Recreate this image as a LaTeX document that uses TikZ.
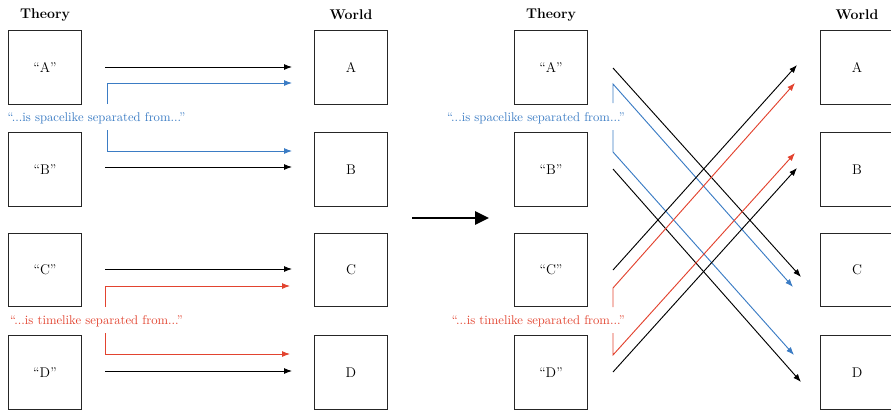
\documentclass[tikz,border=0pt]{standalone}
\usetikzlibrary{arrows.meta}
\definecolor{sblue}{HTML}{3B7CC4}
\definecolor{tred}{HTML}{E2432F}
\begin{document}
\begin{tikzpicture}[x=0.03cm,y=-0.03cm,
  box/.style={draw=black!85,line width=1.1pt,minimum size=2.2cm,inner sep=0pt,font=\fontsize{12}{14}\selectfont},
  head/.style={font=\fontsize{12}{14}\selectfont\bfseries},
  conn/.style={line width=0.8pt,-{Latex[length=2.4mm,width=1.8mm]}},
  bl/.style={conn,sblue},
  rd/.style={conn,tred},
  bk/.style={conn,black},
  lab/.style={font=\fontsize{10.8}{13}\selectfont,inner sep=0pt},
  bigarrow/.style={line width=2.4pt,-{Triangle[length=4.2mm,width=3.9mm]}}]
\useasboundingbox (0,0) rectangle (891,409);
% ---------- left panel ----------
\node[head] (hT1) at (45,15) {Theory};
\node[head] (hW1) at (351,15) {World};
\node[box] (tA1) at (45,67.5) {``A''};
\node[box] (tB1) at (45,169.5) {``B''};
\node[box] (tC1) at (45,270) {``C''};
\node[box] (tD1) at (45,372.5) {``D''};
\node[box] (wA1) at (351,67.5) {A};
\node[box] (wB1) at (351,169.5) {B};
\node[box] (wC1) at (351,270) {C};
\node[box] (wD1) at (351,372.5) {D};
\node[lab,text=sblue] (ls1) at (96.5,118) {``...is spacelike separated from...''};
\node[lab,text=tred] (lt1) at (96.5,321) {``...is timelike separated from...''};
% coordinates left
\coordinate (a1s) at (105,67);  \coordinate (a1e) at (292,67);
\coordinate (b1s) at (107,104); \coordinate (b1m) at (107,83);  \coordinate (b1e) at (292,83);
\coordinate (b2s) at (107,130); \coordinate (b2m) at (107,151); \coordinate (b2e) at (292,151);
\coordinate (bb1s) at (105,167); \coordinate (bb1e) at (292,167);
\coordinate (c1s) at (105,269); \coordinate (c1e) at (292,269);
\coordinate (r1s) at (105,307); \coordinate (r1m) at (105,286); \coordinate (r1e) at (290,286);
\coordinate (r2s) at (105,333); \coordinate (r2m) at (105,354); \coordinate (r2e) at (290,354);
\coordinate (d1s) at (105,371); \coordinate (d1e) at (292,371);
\draw[bk] (a1s) -- (a1e);
\draw[bl] (b1s) -- (b1m) -- (b1e);
\draw[bl] (b2s) -- (b2m) -- (b2e);
\draw[bk] (bb1s) -- (bb1e);
\draw[bk] (c1s) -- (c1e);
\draw[rd] (r1s) -- (r1m) -- (r1e);
\draw[rd] (r2s) -- (r2m) -- (r2e);
\draw[bk] (d1s) -- (d1e);
% ---------- big arrow ----------
\coordinate (bgs) at (412,218); \coordinate (bge) at (489,218);
\draw[bigarrow] (bgs) -- (bge);
% ---------- right panel ----------
\node[head] (hT2) at (551,15) {Theory};
\node[head] (hW2) at (857,15) {World};
\node[box] (tA2) at (551,67.5) {``A''};
\node[box] (tB2) at (551,169.5) {``B''};
\node[box] (tC2) at (551,270) {``C''};
\node[box] (tD2) at (551,372.5) {``D''};
\node[box] (wA2) at (857,67.5) {A};
\node[box] (wB2) at (857,169.5) {B};
\node[box] (wC2) at (857,270) {C};
\node[box] (wD2) at (857,372.5) {D};
\node[lab,text=sblue,anchor=east] (ls2) at (625,118) {``...is spacelike separated from...''};
\node[lab,text=tred,anchor=east] (lt2) at (625,321) {``...is timelike separated from...''};
\coordinate (a2s) at (613,68);  \coordinate (a2e) at (801,277);
\coordinate (u1s) at (613,103); \coordinate (u1m) at (613,84);  \coordinate (u1e) at (793,287);
\coordinate (u2s) at (613,130); \coordinate (u2m) at (613,152); \coordinate (u2e) at (794,355);
\coordinate (bb2s) at (613,169); \coordinate (bb2e) at (801,382);
\coordinate (c2s) at (613,270); \coordinate (c2e) at (797,65);
\coordinate (v1s) at (613,307); \coordinate (v1m) at (613,288); \coordinate (v1e) at (795,83);
\coordinate (v2s) at (613,333); \coordinate (v2m) at (613,355); \coordinate (v2e) at (795,153);
\coordinate (d2s) at (613,372); \coordinate (d2e) at (797,168);
\draw[bk] (a2s) -- (a2e);
\draw[bl] (u1s) -- (u1m) -- (u1e);
\draw[bl] (u2s) -- (u2m) -- (u2e);
\draw[bk] (bb2s) -- (bb2e);
\draw[bk] (c2s) -- (c2e);
\draw[rd] (v1s) -- (v1m) -- (v1e);
\draw[rd] (v2s) -- (v2m) -- (v2e);
\draw[bk] (d2s) -- (d2e);
\end{tikzpicture}
\end{document}
